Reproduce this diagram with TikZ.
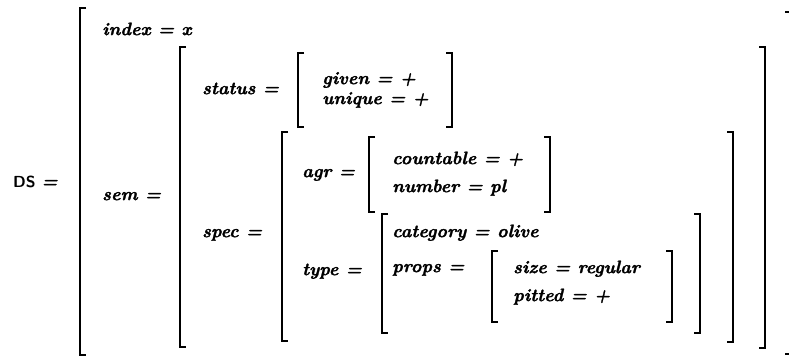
\documentclass[tikz,border=0pt]{standalone}
\usepackage{fontspec}
\newfontfamily\avmfont{lmroman10-bolditalic.otf}[FakeBold=1.6]
\newfontfamily\dsfont{lmsans10-bold.otf}
\newcommand{\lbrak}[3]{\draw[brack] (#1+6,#2) -- (#1,#2) -- (#1,#3) -- (#1+6,#3);}
\newcommand{\rbrak}[3]{\draw[brack] (#1-6,#2) -- (#1,#2) -- (#1,#3) -- (#1-6,#3);}
\tikzset{brack/.style={line width=2.3pt, line join=miter},
      feat/.style={anchor=mid west, inner sep=0pt,
        font=\avmfont\fontsize{18}{20}\selectfont}}
\begin{document}
\begin{tikzpicture}[x=1pt,y=-1pt]
\useasboundingbox (0,0) rectangle (789,358);
    % brackets
    \lbrak{80}{8}{355}
    \rbrak{791}{12}{354}
    \lbrak{180}{47}{347}  \rbrak{765}{47}{348}
    \lbrak{298}{53}{127}  \rbrak{452}{53}{127}
    \lbrak{282}{132}{341} \rbrak{733}{132}{342}
    \lbrak{369}{137}{212} \rbrak{550}{137}{212}
    \lbrak{382}{214}{333} \rbrak{700}{214}{333}
    \lbrak{492}{251}{322} \rbrak{672}{251}{322}
    % features
    \node[anchor=mid west, inner sep=0pt, font=\fontsize{16}{18}\selectfont] (ds) at (13,185)
      {\dsfont DS \avmfont\fontsize{18}{20}\selectfont =};
    \node[feat] (index) at (102,33) {index = x};
    \node[feat] (sem) at (102,198) {sem =};
    \node[feat] (status) at (202,92) {status =};
    \node[feat] (given) at (322,82) {given = +};
    \node[feat] (unique) at (322,102) {unique = +};
    \node[feat] (spec) at (202,235) {spec =};
    \node[feat] (agr) at (302,175) {agr =};
    \node[feat] (countable) at (392,162) {countable = +};
    \node[feat] (number) at (392,190) {number = pl};
    \node[feat] (type) at (302,273) {type =};
    \node[feat] (category) at (392,235) {category = olive};
    \node[feat] (props) at (392,270) {props =};
    \node[feat] (size) at (513,271) {size = regular};
    \node[feat] (pitted) at (513,299) {pitted = +};
\end{tikzpicture}
\end{document}
